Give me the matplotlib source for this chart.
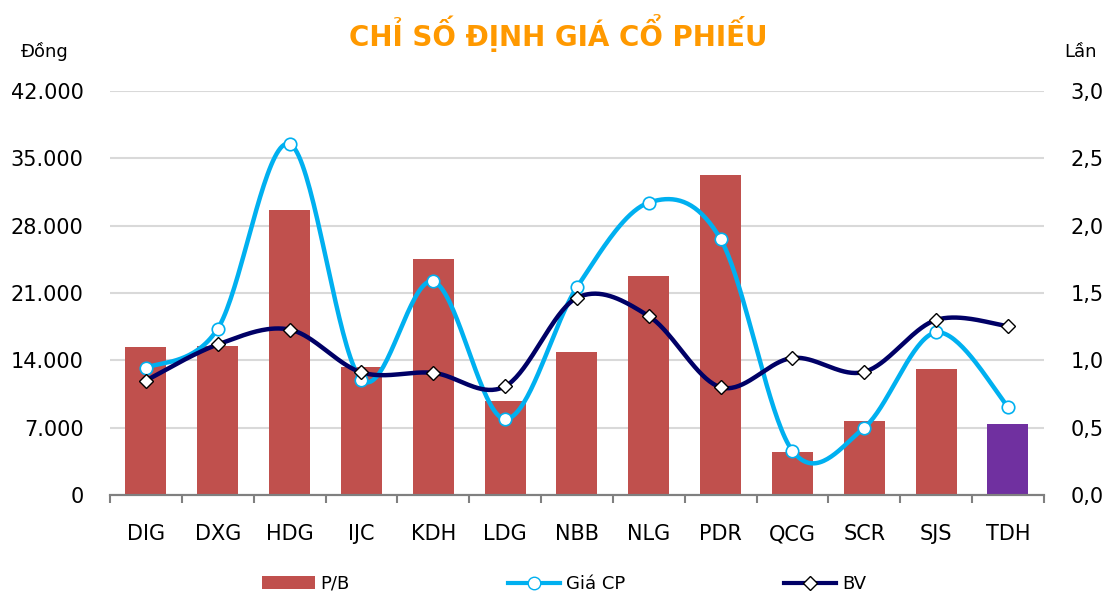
import matplotlib.pyplot as plt
import numpy as np
from matplotlib.ticker import FuncFormatter, FixedLocator
from matplotlib.lines import Line2D
from matplotlib.patches import Patch

# Data
tickers = ['DIG', 'DXG', 'HDG', 'IJC', 'KDH', 'LDG', 'NBB', 'NLG', 'PDR', 'QCG', 'SCR', 'SJS', 'TDH']
pb = [1.10, 1.11, 2.12, 0.95, 1.75, 0.70, 1.06, 1.63, 2.38, 0.32, 0.55, 0.935, 0.53]
gia_cp = [13200, 17300, 36500, 12000, 22200, 7900, 21600, 30400, 26600, 4600, 7000, 16900, 9200]
bv = [11900, 15650, 17200, 12750, 12700, 11300, 20500, 18600, 11200, 14250, 12800, 18200, 17550]

bar_red = '#C0504D'
bar_purple = '#7030A0'
blue = '#00B0F0'
navy = '#000066'


def smooth(xs, ys, n=40):
    # Excel-style smoothed line: Catmull-Rom segments through the points
    xs = np.asarray(xs, float)
    ys = np.asarray(ys, float)
    px = np.concatenate([[xs[0]], xs, [xs[-1]]])
    py = np.concatenate([[ys[0]], ys, [ys[-1]]])
    outx, outy = [], []
    t = np.linspace(0, 1, n)
    for i in range(1, len(px) - 2):
        p0, p1, p2, p3 = py[i - 1], py[i], py[i + 1], py[i + 2]
        q0, q1, q2, q3 = px[i - 1], px[i], px[i + 1], px[i + 2]
        c1y, c2y = p1 + (p2 - p0) / 6, p2 - (p3 - p1) / 6
        c1x, c2x = q1 + (q2 - q0) / 6, q2 - (q3 - q1) / 6
        b = [(1 - t) ** 3, 3 * t * (1 - t) ** 2, 3 * t ** 2 * (1 - t), t ** 3]
        outx.append(b[0] * q1 + b[1] * c1x + b[2] * c2x + b[3] * q2)
        outy.append(b[0] * p1 + b[1] * c1y + b[2] * c2y + b[3] * p2)
    return np.concatenate(outx), np.concatenate(outy)


plt.rcParams['font.family'] = 'DejaVu Sans'

fig = plt.figure(figsize=(11.17, 5.94), dpi=100)
ax = fig.add_axes([0.0985, 0.1667, 0.836, 0.680])
ax2 = ax.twinx()

x = np.arange(len(tickers))

# P/B bars (right axis, drawn on the primary axes so the lines sit on top)
colors = [bar_red] * (len(tickers) - 1) + [bar_purple]
ax.bar(x, pb, width=0.57, color=colors, zorder=2)
ax.set_ylim(0, 3.0)
ax.set_yticks(np.arange(0, 3.01, 0.5))
ax.yaxis.tick_right()
ax.yaxis.set_major_formatter(FuncFormatter(lambda v, p: f'{v:.1f}'.replace('.', ',')))
ax.grid(axis='y', color='#D9D9D9', linewidth=1.5)
ax.set_axisbelow(True)

# lines on the twin (left axis, Đồng)
sx, sy = smooth(x, gia_cp)
ax2.plot(sx, sy, color=blue, linewidth=3.2, zorder=3)
ax2.plot(x, gia_cp, linestyle='none', marker='o', markersize=9,
         markerfacecolor='white', markeredgecolor=blue, markeredgewidth=1.2, zorder=4)
sx, sy = smooth(x, bv)
ax2.plot(sx, sy, color=navy, linewidth=3.2, zorder=3)
ax2.plot(x, bv, linestyle='none', marker='D', markersize=7,
         markerfacecolor='white', markeredgecolor='black', markeredgewidth=1, zorder=4)
ax2.set_ylim(0, 42000)
ax2.set_yticks(np.arange(0, 42001, 7000))
ax2.yaxis.tick_left()
ax2.yaxis.set_major_formatter(FuncFormatter(lambda v, p: f'{int(v):,}'.replace(',', '.')))

ax.set_xlim(-0.5, len(tickers) - 0.5)
for a in (ax, ax2):
    for s in ('left', 'right', 'top'):
        a.spines[s].set_visible(False)
    a.spines['bottom'].set_color('#808080')
    a.spines['bottom'].set_linewidth(1.5)
    a.tick_params(axis='y', length=0, labelsize=15, pad=19)

# category boundaries get tick marks, labels sit on category centres
ax.xaxis.set_major_locator(FixedLocator(np.arange(-0.5, len(tickers), 1)))
ax.xaxis.set_minor_locator(FixedLocator(x))
ax.set_xticklabels([])
ax.set_xticklabels(tickers, minor=True)
ax.tick_params(axis='x', which='major', length=6, width=1.5, color='#808080')
ax.tick_params(axis='x', which='minor', length=0, labelsize=15, pad=21)
ax2.tick_params(axis='x', length=0)

fig.text(0.5, 0.945, 'CHỈ SỐ ĐỊNH GIÁ CỔ PHIẾU', ha='center', va='center',
         fontsize=20, fontweight='bold', color='#FF9900')
fig.text(0.040, 0.913, 'Đồng', ha='center', va='center', fontsize=13)
fig.text(0.9675, 0.913, 'Lần', ha='center', va='center', fontsize=13)

handles = [
    Patch(facecolor=bar_red, label='P/B'),
    Line2D([0], [0], color=blue, linewidth=3, marker='o', markersize=9,
           markerfacecolor='white', markeredgecolor=blue, label='Giá CP'),
    Line2D([0], [0], color=navy, linewidth=3, marker='D', markersize=7,
           markerfacecolor='white', markeredgecolor='black', label='BV'),
]
fig.legend(handles=handles, loc='center', bbox_to_anchor=(0.505, 0.017), ncol=3,
           frameon=False, fontsize=13, handlelength=2.9, handletextpad=0.3,
           columnspacing=8.8, borderpad=0)

fig.savefig('out.png', dpi=100)
